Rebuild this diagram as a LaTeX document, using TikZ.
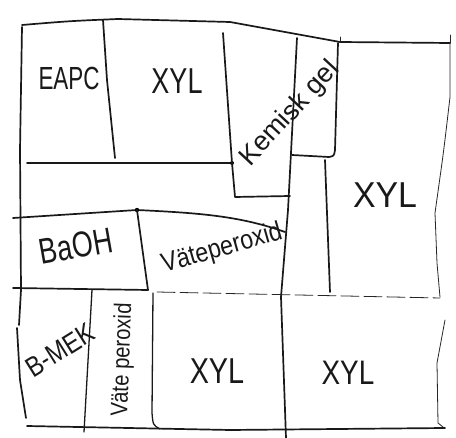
\documentclass[tikz,border=0pt]{standalone}
\usepackage{fontspec}
\usepackage{graphicx}
\setmainfont{Liberation Sans}
\newcommand{\hw}[3]{\fontsize{#1}{#1}\selectfont\scalebox{#2}[1]{#3}}
\begin{document}
\begin{tikzpicture}[x=1pt,y=-1pt,
  wall/.style={line width=1.7pt, line cap=round, line join=round, black!90},
  wallthin/.style={line width=1.3pt, line cap=round, line join=round, black!90},
  hair/.style={line width=0.8pt, line cap=round, line join=round, black!85},
  lbl/.style={inner sep=0pt, text=black!90}]
\useasboundingbox[fill=white] (0,0) rectangle (456,438);

% outer walls
\draw[wall] (22,25) .. controls (70,21) .. (118,19) -- (230,22) -- (340,42) -- (450,43);
\draw[hair] (340,42) -- (340,37);
\draw[hair] (450,43) -- (450,35);
\draw[wall] (22,27) -- (20,150) -- (21,290) -- (19,325);
\draw[wall] (17,328) -- (20,380) -- (26,418);
\draw[wall] (27,426) -- (230,430) -- (445,428);
\draw[hair] (450,43) -- (450,97) .. controls (445,140) .. (442,163) -- (435,213) -- (437,263) -- (440,297);
\draw[hair] (445,320) -- (437,363) -- (438,423) -- (443,427);

% upper rooms
\draw[wall] (103,20) -- (107,80) -- (115,158);
\draw[wall] (27,163) -- (232,163);
\fill (232,163) circle (2pt);
\draw[wall] (223,33) -- (232,163) -- (235,197) -- (290,196);
\draw[wall] (297,38) -- (288,210) -- (281,297) -- (286,438);
\draw[wall] (338,43) -- (335,150) .. controls (334,156) .. (329,157) -- (292,155);
\draw[wall] (325,160) -- (330,292);

% middle rooms
\draw[wall] (13,218) -- (137,210) .. controls (200,213) and (240,216) .. (285,232);
\fill (137,210) circle (2.2pt);
\draw[wall] (137,210) -- (148,290);
\draw[wall] (13,288) -- (148,290);
\draw[hair, dash pattern=on 18pt off 5pt] (157,292) -- (440,298);

% lower rooms
\draw[wallthin] (92,290) -- (84,432);
\draw[wallthin] (153,293) -- (152,413) .. controls (153,425) .. (160,429);

% labels
\node[lbl] (eapc) at (69,78) {\hw{32}{0.7}{EAPC}};
\node[lbl] (xyl1) at (177,81) {\hw{36}{0.75}{XYL}};
\node[lbl, rotate=47] (kem) at (290,114) {\hw{27}{1}{Kemisk gel}};
\node[lbl] (xyl2) at (385,195) {\hw{36}{0.94}{XYL}};
\node[lbl, rotate=10] (baoh) at (76,246) {\hw{36}{0.75}{BaOH}};
\node[lbl, rotate=16] (vp1) at (222,249) {\hw{27}{0.86}{Väteperoxid}};
\node[lbl, rotate=32] (bmek) at (60,350) {\hw{28}{0.85}{B-MEK}};
\node[lbl, rotate=88] (vp2) at (123,360) {\hw{24}{0.84}{Väte peroxid}};
\node[lbl] (xyl3) at (217,371) {\hw{36}{0.8}{XYL}};
\node[lbl] (xyl4) at (348,373) {\hw{34}{0.82}{XYL}};
\end{tikzpicture}
\end{document}
